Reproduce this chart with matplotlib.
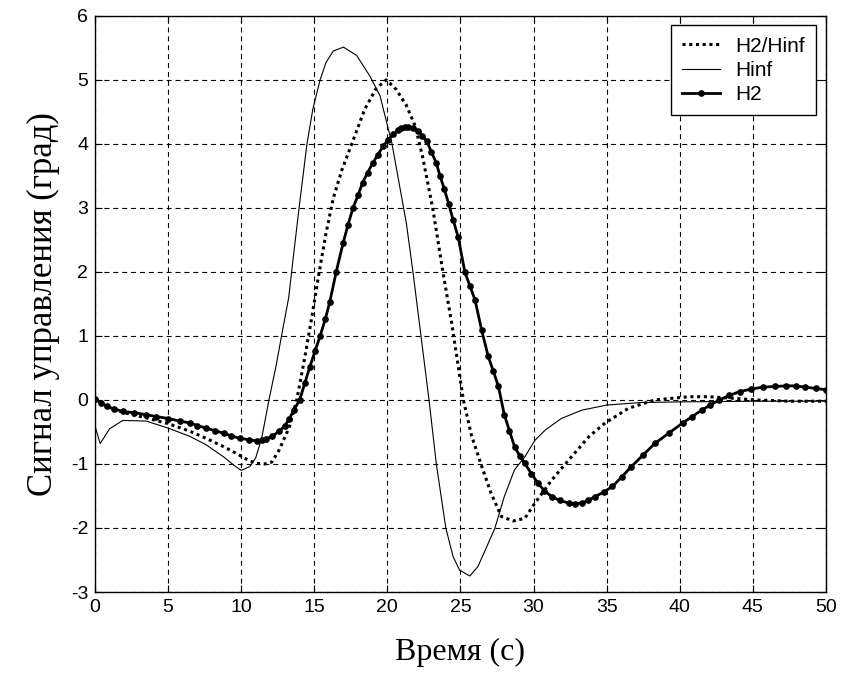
import matplotlib
matplotlib.use("Agg")
import matplotlib.pyplot as plt

# H2/Hinf (пунктир)
t_mix = [0, 1, 2, 3.5, 5, 6.5, 7.6, 8.8, 9.7, 10.4, 11.0, 11.6, 12.1, 12.6, 13.3,
         13.8, 14.3, 14.8, 15.3, 15.8, 16.3, 16.9, 17.65, 18.45, 19.25, 19.93, 20.6,
         21.3, 21.9, 22.4, 23.1, 23.8, 24.4, 24.8, 25.2, 25.75, 26.4, 27.1, 27.8,
         28.6, 29.4, 30.1, 31.25, 32.4, 33.8, 34.9, 36.5, 38.3, 40.6, 42, 43.4,
         45.2, 47.5, 50]
y_mix = [0, -0.12, -0.2, -0.28, -0.37, -0.49, -0.6, -0.73, -0.84, -0.93, -0.99, -1.0,
         -0.97, -0.78, -0.42, 0, 0.6, 1.25, 1.95, 2.6, 3.15, 3.6, 4.05, 4.54, 4.87, 5.0,
         4.85, 4.6, 4.28, 3.81, 3.0, 2.0, 1.2, 0.6, 0, -0.55, -1.0, -1.46, -1.82,
         -1.89, -1.85, -1.61, -1.25, -0.94, -0.57, -0.36, -0.13, 0, 0.05, 0.05, 0.03,
         0, -0.02, -0.02]

# Hinf (тонкая линия)
t_hinf = [0, 0.05, 0.35, 1.0, 1.9, 3.5, 5, 6.5, 7.6, 8.8, 9.5, 10.0, 10.6, 11.0, 11.4,
          11.9, 12.4, 12.8, 13.25, 13.6, 13.96, 14.5, 14.9, 15.4, 15.8, 16.3, 17.0,
          17.9, 18.8, 19.5, 19.9, 20.3, 20.8, 21.3, 21.75, 22.3, 22.85, 23.35, 24.0,
          24.5, 24.95, 25.64, 26.2, 26.9, 27.36, 28.0, 28.7, 29.4, 30.1, 30.8, 31.9,
          33.3, 35.0, 37.4, 40.2, 45, 50]
y_hinf = [-0.4, -0.45, -0.68, -0.45, -0.32, -0.33, -0.44, -0.57, -0.7, -0.89, -1.02,
          -1.1, -1.04, -0.9, -0.6, 0.0, 0.55, 1.05, 1.6, 2.3, 3.0, 4.0, 4.54, 5.0,
          5.27, 5.45, 5.51, 5.38, 5.06, 4.75, 4.38, 4.02, 3.39, 2.76, 2.0, 1.0, 0,
          -1.0, -2.0, -2.45, -2.66, -2.75, -2.6, -2.24, -2.0, -1.51, -1.09, -0.89,
          -0.63, -0.47, -0.29, -0.16, -0.08, -0.04, -0.03, -0.02, -0.02]

# H2 (линия с точками)
t_h2 = [0, 0.4, 0.8, 1.3, 1.9, 2.7, 3.5, 4.2, 5, 5.8, 6.5, 7.0, 7.6, 8.2, 8.8, 9.3,
        9.9, 10.5, 11.05, 11.4, 11.7, 12.1, 12.6, 13.0, 13.3, 13.6, 14.0, 14.35, 14.7,
        15.05, 15.4, 15.75, 16.06, 16.5, 16.97, 17.3, 17.65, 18.0, 18.3, 18.65, 19.0,
        19.35, 19.7, 20.05, 20.4, 20.7, 20.96, 21.2, 21.4, 21.75, 22.1, 22.4, 22.7,
        23.0, 23.35, 23.6, 23.9, 24.2, 24.5, 24.84, 25.3, 25.65, 26.0, 26.45, 26.9,
        27.25, 27.6, 28.0, 28.35, 28.7, 29.05, 29.4, 29.85, 30.3, 30.75, 31.25, 31.8,
        32.4, 32.85, 33.3, 33.75, 34.2, 34.8, 35.4, 36.05, 36.7, 37.5, 38.3, 39.25,
        40.2, 40.85, 41.5, 42.1, 42.7, 43.4, 44.1, 44.9, 45.7, 46.5, 47.3, 47.95,
        48.6, 49.3, 50]
y_h2 = [0.02, -0.05, -0.1, -0.14, -0.18, -0.2, -0.23, -0.26, -0.29, -0.33, -0.36,
        -0.4, -0.44, -0.48, -0.52, -0.56, -0.6, -0.62, -0.64, -0.63, -0.61, -0.57,
        -0.49, -0.4, -0.29, -0.16, 0, 0.26, 0.52, 0.76, 1.0, 1.26, 1.53, 2.0, 2.45,
        2.73, 3.0, 3.2, 3.39, 3.55, 3.7, 3.83, 3.96, 4.06, 4.15, 4.21, 4.25, 4.27, 4.27,
        4.25, 4.2, 4.13, 4.04, 3.88, 3.7, 3.5, 3.29, 3.06, 2.81, 2.55, 2.0, 1.78, 1.56,
        1.09, 0.68, 0.45, 0.21, -0.23, -0.48, -0.73, -0.87, -0.99, -1.15, -1.3, -1.42,
        -1.51, -1.57, -1.61, -1.62, -1.61, -1.57, -1.51, -1.44, -1.35, -1.2, -1.04,
        -0.86, -0.68, -0.52, -0.36, -0.26, -0.16, -0.08, 0, 0.07, 0.13, 0.17, 0.2, 0.21,
        0.22, 0.22, 0.2, 0.18, 0.16]

plt.rcParams['font.family'] = ['Liberation Sans', 'DejaVu Sans']
plt.rcParams['axes.unicode_minus'] = False

fig = plt.figure(figsize=(8.41, 6.86), dpi=100)
ax = fig.add_axes([0.113, 0.137, 0.869, 0.840])

ax.plot(t_mix, y_mix, color='black', linestyle=(0, (1, 1.2)), linewidth=2.2, label='H2/Hinf')
ax.plot(t_hinf, y_hinf, color='black', linewidth=0.8, label='Hinf')
ax.plot(t_h2, y_h2, color='black', linewidth=2.0, marker='o', markersize=3.8, label='H2')

ax.set_xlim(0, 50)
ax.set_ylim(-3, 6)
ax.set_xticks(range(0, 51, 5))
ax.set_yticks(range(-3, 7))
ax.grid(True, color='black', linestyle=(0, (4.5, 3.5)), linewidth=0.8)
ax.tick_params(direction='in', top=True, right=True, length=5, labelsize=14, pad=5)
for s in ax.spines.values():
    s.set_linewidth(1.0)

leg = ax.legend(loc='upper right', fontsize=15, frameon=True, fancybox=False,
                edgecolor='black', framealpha=1, borderaxespad=0.45, handlelength=1.8,
                handletextpad=0.75, labelspacing=0.25, borderpad=0.55)
leg.get_frame().set_linewidth(1.0)

ax.set_xlabel('Время (с)', fontsize=23, family='Liberation Serif', labelpad=16)
ax.set_ylabel('Сигнал управления (град)', fontsize=25, family='Liberation Serif', labelpad=8)

fig.savefig('out.png', dpi=100)
